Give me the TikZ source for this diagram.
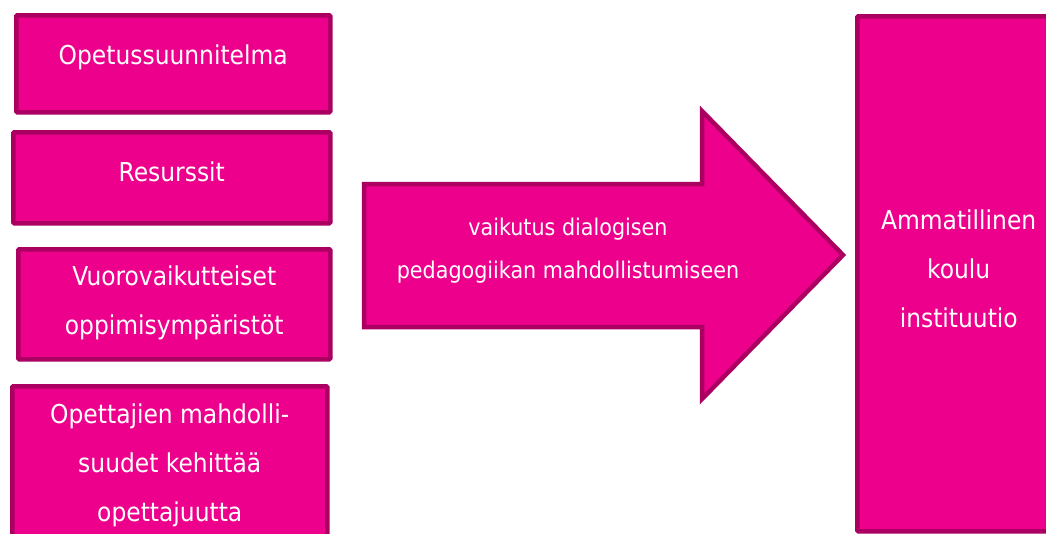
\documentclass[tikz,border=0pt]{standalone}
\usepackage{fontspec}
\setmainfont{DejaVu Sans Condensed}
\definecolor{mfill}{HTML}{EC008C}
\definecolor{mline}{HTML}{AB0062}
\begin{document}
\begin{tikzpicture}[x=1pt,y=-1pt,
  box/.style={draw=mline,fill=mfill,line width=4.5pt,rounded corners=1pt,inner sep=0pt,anchor=north west},
  txt/.style={text=white,align=center,font=\fontsize{26}{49}\selectfont,inner sep=0pt},
  arrowtxt/.style={text=white,align=center,font=\fontsize{23}{43}\selectfont,inner sep=0pt}]
\useasboundingbox (0,0) rectangle (1046,533);
\clip (0,0) rectangle (1046,533);
\node[box,minimum width=314pt,minimum height=97pt] (b1) at (14,13) {};
\node[box,minimum width=317pt,minimum height=91pt] (b2) at (11,130) {};
\node[box,minimum width=312pt,minimum height=110pt] (b3) at (16,247) {};
\node[box,minimum width=315pt,minimum height=158pt] (b4) at (10,384) {};
\node[box,minimum width=203pt,minimum height=515pt] (r) at (855,14) {};
\node[txt] (t1) at ([yshift=6pt]b1.center) {Opetussuunnitelma};
\node[txt] (t2) at ([yshift=6pt]b2.center) {Resurssit};
\node[txt] (t3) at ([yshift=1pt]b3.center) {Vuorovaikutteiset\\oppimisympäristöt};
\node[txt] (t4) at (b4.center) {Opettajien mahdolli-\\suudet kehittää\\opettajuutta};
\node[txt] (t5) at ([yshift=5pt]r.center) {Ammatillinen\\koulu\\instituutio};
\coordinate (a1) at (364,184);
\coordinate (a2) at (702,184);
\coordinate (a3) at (702,111);
\coordinate (a4) at (843,255);
\coordinate (a5) at (702,399);
\coordinate (a6) at (702,327);
\coordinate (a7) at (364,327);
\draw[draw=mline,fill=mfill,line width=4.5pt,line join=miter] (a1) -- (a2) -- (a3) -- (a4) -- (a5) -- (a6) -- (a7) -- cycle;
\node[arrowtxt] (at) at (568,251) {vaikutus dialogisen\\pedagogiikan mahdollistumiseen};
\end{tikzpicture}
\end{document}
